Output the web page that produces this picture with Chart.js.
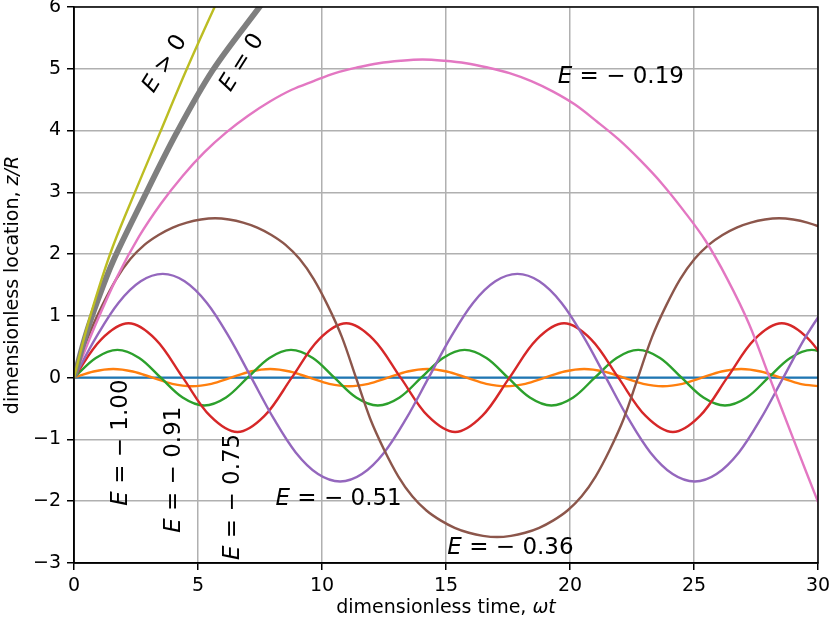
<!DOCTYPE html>
<html><head><meta charset="utf-8">
<script src="https://cdn.jsdelivr.net/npm/chart.js@4/dist/chart.umd.min.js"></script>
<style>html,body{margin:0;padding:0;background:#fff;} canvas{display:block;}</style>
</head><body>
<canvas id="c" width="832" height="625"></canvas>
<script>
const FONT = "'DejaVu Sans', sans-serif";

// ---- data ----
const timeTicks = [0, 5, 10, 15, 20, 25, 30];
const zTicks = [-3, -2, -1, 0, 1, 2, 3, 4, 5, 6];

const blueT = [0, 30];
const blueZ = [0, 0];

const orangeT = [0, 0.79, 1.58, 2.37, 3.17, 3.96, 4.75, 5.54, 6.33, 7.12, 7.91, 8.70, 9.50, 10.29, 11.08, 11.87, 12.66, 13.45, 14.24, 15.03, 15.83, 16.62, 17.41, 18.20, 18.99, 19.78, 20.57, 21.36, 22.16, 22.95, 23.74, 24.53, 25.32, 26.11, 26.90, 27.69, 28.49, 29.28, 30.07];
const orangeZ = [0, 0.10, 0.14, 0.10, 0, -0.10, -0.14, -0.10, 0, 0.10, 0.14, 0.10, 0, -0.10, -0.14, -0.10, 0, 0.10, 0.14, 0.10, 0, -0.10, -0.14, -0.10, 0, 0.10, 0.14, 0.10, 0, -0.10, -0.14, -0.10, 0, 0.10, 0.14, 0.10, 0, -0.10, -0.14];

const greenT = [0, 0.88, 1.75, 2.63, 3.50, 4.38, 5.25, 6.13, 7.00, 7.88, 8.75, 9.63, 10.50, 11.38, 12.25, 13.13, 14.00, 14.88, 15.75, 16.63, 17.50, 18.38, 19.25, 20.13, 21.00, 21.88, 22.75, 23.63, 24.50, 25.38, 26.25, 27.13, 28.00, 28.88, 29.75, 30.63];
const greenZ = [0, 0.32, 0.45, 0.32, 0, -0.32, -0.45, -0.32, 0, 0.32, 0.45, 0.32, 0, -0.32, -0.45, -0.32, 0, 0.32, 0.45, 0.32, 0, -0.32, -0.45, -0.32, 0, 0.32, 0.45, 0.32, 0, -0.32, -0.45, -0.32, 0, 0.32, 0.45, 0.32];

const redT = [0, 1.10, 2.20, 3.29, 4.39, 5.49, 6.59, 7.68, 8.78, 9.88, 10.98, 12.07, 13.17, 14.27, 15.37, 16.46, 17.56, 18.66, 19.76, 20.85, 21.95, 23.05, 24.15, 25.24, 26.34, 27.44, 28.54, 29.63, 30.73];
const redZ = [0, 0.62, 0.88, 0.62, 0, -0.62, -0.88, -0.62, 0, 0.62, 0.88, 0.62, 0, -0.62, -0.88, -0.62, 0, 0.62, 0.88, 0.62, 0, -0.62, -0.88, -0.62, 0, 0.62, 0.88, 0.62, 0];

const purpleT = [0, 0.9, 1.79, 2.69, 3.58, 4.46, 5.36, 6.25, 7.15, 8.05, 8.94, 9.84, 10.73, 11.61, 12.51, 13.4, 14.3, 15.2, 16.09, 16.99, 17.88, 18.76, 19.66, 20.55, 21.45, 22.35, 23.24, 24.14, 25.03, 25.91, 26.81, 27.7, 28.6, 29.5, 30.39];
const purpleZ = [0, 0.66, 1.21, 1.56, 1.68, 1.56, 1.21, 0.66, 0, -0.66, -1.21, -1.56, -1.68, -1.56, -1.21, -0.66, 0, 0.66, 1.21, 1.56, 1.68, 1.56, 1.21, 0.66, 0, -0.66, -1.21, -1.56, -1.68, -1.56, -1.21, -0.66, 0, 0.66, 1.21];

const brownT = [0, 0.57, 1.14, 1.71, 2.27, 2.84, 3.41, 3.98, 4.55, 5.12, 5.69, 6.25, 6.82, 7.39, 7.96, 8.53, 9.10, 9.66, 10.23, 10.80, 11.37, 11.94, 12.51, 13.08, 13.64, 14.21, 14.78, 15.35, 15.92, 16.49, 17.06, 17.62, 18.19, 18.76, 19.33, 19.90, 20.47, 21.03, 21.60, 22.17, 22.74, 23.31, 23.88, 24.45, 25.02, 25.59, 26.15, 26.72, 27.29, 27.86, 28.43, 29.00, 29.57, 30.14, 30.70];
const brownZ = [0, 0.66, 1.17, 1.60, 1.92, 2.15, 2.31, 2.43, 2.51, 2.56, 2.58, 2.56, 2.51, 2.43, 2.31, 2.15, 1.92, 1.60, 1.17, 0.66, 0, -0.66, -1.17, -1.60, -1.92, -2.15, -2.31, -2.43, -2.51, -2.56, -2.58, -2.56, -2.51, -2.43, -2.31, -2.15, -1.92, -1.60, -1.17, -0.66, 0, 0.66, 1.17, 1.60, 1.92, 2.15, 2.31, 2.43, 2.51, 2.56, 2.58, 2.56, 2.51, 2.43, 2.31];

const pinkT = [0, 0.88, 1.75, 2.63, 3.51, 4.39, 5.26, 6.14, 7.02, 7.90, 8.78, 9.66, 10.53, 11.41, 12.29, 13.17, 14.05, 14.93, 15.81, 16.68, 17.56, 18.44, 19.32, 20.20, 21.07, 21.95, 22.83, 23.71, 24.59, 25.46, 26.34, 27.22, 28.05, 29.13, 29.94, 30.5];
const pinkZ = [0, 0.87, 1.64, 2.29, 2.82, 3.27, 3.65, 3.97, 4.24, 4.47, 4.66, 4.80, 4.93, 5.02, 5.09, 5.13, 5.15, 5.13, 5.09, 5.02, 4.93, 4.80, 4.63, 4.42, 4.15, 3.86, 3.52, 3.14, 2.70, 2.22, 1.60, 0.87, 0, -1.12, -1.95, -2.5];

const grayT = [0, 0.5, 1.0, 1.57, 2.64, 4.12, 5.6, 7.48, 8.5];
const grayZ = [0, 0.72, 1.30, 1.88, 2.77, 3.95, 4.98, 6.0, 6.55];

const oliveT = [0, 0.5, 1.0, 1.5, 2.04, 3.45, 4.53, 5.67, 6.5];
const oliveZ = [0, 0.78, 1.45, 2.05, 2.6, 3.95, 4.98, 6.0, 6.7];

// ---- annotation texts ----
const labelTexts = ['− 1.00', '− 0.91', '− 0.75', '− 0.51', '− 0.36', '− 0.19', '> 0', '= 0'];

// ---- presentation ----
const seriesList = [
  {t: blueT, z: blueZ, color: '#1f77b4', w: 2.4},
  {t: orangeT, z: orangeZ, color: '#ff7f0e', w: 2.4},
  {t: greenT, z: greenZ, color: '#2ca02c', w: 2.4},
  {t: redT, z: redZ, color: '#d62728', w: 2.4},
  {t: purpleT, z: purpleZ, color: '#9467bd', w: 2.4},
  {t: brownT, z: brownZ, color: '#8c564b', w: 2.4},
  {t: pinkT, z: pinkZ, color: '#e377c2', w: 2.4},
  {t: grayT, z: grayZ, color: '#7f7f7f', w: 5.8},
  {t: oliveT, z: oliveZ, color: '#bcbd22', w: 2.4}
];
// label placement: data-coordinate centre and rotation (deg)
const labelPlace = [
  {x: 1.90, y: -1.05, rot: -90, eq: true},
  {x: 4.02, y: -1.49, rot: -90, eq: true},
  {x: 6.41, y: -1.93, rot: -90, eq: true},
  {x: 10.67, y: -1.96, rot: 0, eq: true},
  {x: 17.6, y: -2.76, rot: 0, eq: true},
  {x: 22.05, y: 4.86, rot: 0, eq: true},
  {x: 3.68, y: 5.08, rot: -58, eq: false},
  {x: 6.78, y: 5.1, rot: -58, eq: false}
];

const datasets = seriesList.map((s, i) => ({
  data: s.t.map((t, k) => ({x: t, y: s.z[k]})),
  borderColor: s.color,
  backgroundColor: s.color,
  borderWidth: s.w,
  pointRadius: 0,
  pointHoverRadius: 0,
  fill: false,
  tension: 0.34,
  cubicInterpolationMode: 'default',
  borderJoinStyle: 'round',
  order: seriesList.length - i
}));

function drawRich(ctx, parts, x, y, angleDeg, size) {
  ctx.save();
  ctx.translate(x, y);
  ctx.rotate(angleDeg * Math.PI / 180);
  let total = 0;
  const widths = parts.map(p => {
    ctx.font = (p.it ? 'italic ' : '') + size + 'px ' + FONT;
    const w = ctx.measureText(p.s).width;
    total += w;
    return w;
  });
  let cx = -total / 2;
  ctx.fillStyle = '#000';
  ctx.textBaseline = 'middle';
  ctx.textAlign = 'left';
  parts.forEach((p, i) => {
    ctx.font = (p.it ? 'italic ' : '') + size + 'px ' + FONT;
    ctx.fillText(p.s, cx, 0);
    cx += widths[i];
  });
  ctx.restore();
}

const annot = {
  id: 'annot',
  afterDatasetsDraw(chart) {
    const ctx = chart.ctx, xs = chart.scales.x, ys = chart.scales.y, a = chart.chartArea;
    labelPlace.forEach((p, i) => {
      const txt = labelTexts[i];
      const parts = p.eq ? [{s: 'E', it: true}, {s: ' = ' + txt}] : [{s: 'E', it: true}, {s: ' ' + txt}];
      drawRich(ctx, parts, xs.getPixelForValue(p.x), ys.getPixelForValue(p.y), p.rot, 23);
    });
    ctx.save();
    ctx.strokeStyle = '#000';
    ctx.lineWidth = 1.5;
    ctx.strokeRect(a.left, a.top, a.right - a.left, a.bottom - a.top);
    ctx.restore();
  },
  afterDraw(chart) {
    const ctx = chart.ctx, a = chart.chartArea;
    drawRich(ctx, [{s: 'dimensionless time, '}, {s: 'ωt', it: true}], (a.left + a.right) / 2, 608, 0, 19);
    drawRich(ctx, [{s: 'dimensionless location, '}, {s: 'z/R', it: true}], 13, (a.top + a.bottom) / 2, -90, 19);
  }
};

const fmt = v => (v < 0 ? '−' + Math.abs(v) : '' + v);

new Chart(document.getElementById('c'), {
  type: 'line',
  data: {datasets},
  options: {
    responsive: false,
    devicePixelRatio: 1,
    animation: false,
    parsing: true,
    layout: {padding: {left: 0, top: 7, right: 14, bottom: 0}},
    plugins: {legend: {display: false}, tooltip: {enabled: false}},
    elements: {line: {tension: 0.34}},
    scales: {
      x: {
        type: 'linear', min: timeTicks[0], max: timeTicks[timeTicks.length - 1],
        afterBuildTicks: s => { s.ticks = timeTicks.map(v => ({value: v})); },
        afterFit: s => { s.height = 62; s.paddingLeft = 0; s.paddingRight = 0; },
        ticks: {callback: fmt, font: {family: FONT, size: 19}, color: '#000', padding: 5, maxRotation: 0, autoSkip: false},
        grid: {color: '#b0b0b0', lineWidth: 1.5, tickColor: '#000', tickLength: 7, drawTicks: true},
        border: {color: '#000', width: 1.5},
        title: {display: false}
      },
      y: {
        type: 'linear', min: zTicks[0], max: zTicks[zTicks.length - 1],
        afterBuildTicks: s => { s.ticks = zTicks.map(v => ({value: v})); },
        afterFit: s => { s.width = 74; s.paddingTop = 0; s.paddingBottom = 0; },
        ticks: {callback: fmt, font: {family: FONT, size: 19}, color: '#000', padding: 6, autoSkip: false},
        grid: {color: '#b0b0b0', lineWidth: 1.5, tickColor: '#000', tickLength: 7, drawTicks: true},
        border: {color: '#000', width: 1.5},
        title: {display: false}
      }
    }
  },
  plugins: [annot]
});
</script>
</body></html>
